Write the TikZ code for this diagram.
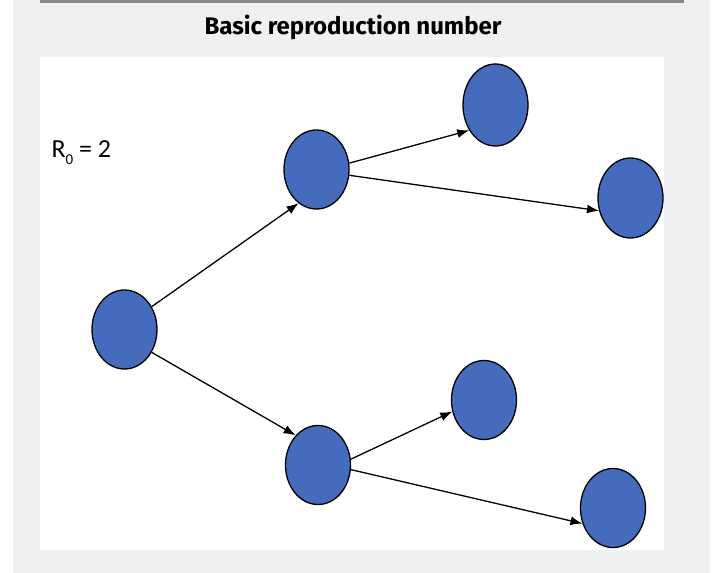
\documentclass[tikz,border=0pt]{standalone}
\usepackage{fontspec}
\setmainfont{Carlito}
\newfontfamily\titlefont{Fira Sans}
\usepackage{tikz}
\usetikzlibrary{arrows,arrows.meta,shapes.geometric}
\definecolor{bgGrey}{RGB}{239,240,242}
\definecolor{ruleGrey}{RGB}{138,138,138}
\definecolor{caseBlue}{RGB}{69,108,188}
\tikzset{case/.style={ellipse,draw=black,line width=1.3pt,fill=caseBlue,minimum width=65pt,minimum height=79pt,inner sep=0pt},
  spread/.style={-{Latex[length=12pt,width=9pt]},line width=1.3pt}}

\begin{document}
\begin{tikzpicture}[x=1pt,y=-1pt]
\useasboundingbox (0,0) rectangle (713,573);
\fill[bgGrey] (13,0) rectangle (710,573);
\fill[white] (40,57) rectangle (664,550);
\draw[ruleGrey,line width=2.5pt] (40,1.25) -- (684,1.25);
\node (title) at (353,27) {\titlefont\bfseries\fontsize{24}{28}\selectfont Basic reproduction number};
\node[anchor=west] (rzero) at (48,153) {\fontsize{26}{30}\selectfont R\raisebox{-7pt}{\fontsize{15}{16}\selectfont 0} = 2};
\node[case] (a) at (124.5,329.5) {};
\node[case] (b) at (316.5,169.5) {};
\node[case,minimum height=82pt] (c) at (495.5,105) {};
\node[case,minimum height=80pt] (d) at (630.5,198) {};
\node[case] (e) at (318,465) {};
\node[case] (f) at (484,400) {};
\node[case] (g) at (613,508) {};
\draw[spread] (a.40) -- (b.242);
\draw[spread] (b.11) -- (c.224);
\draw[spread] (b.350) -- (d.202);
\draw[spread] (a.320) -- (e.127);
\draw[spread] (e.10) -- (f.200);
\draw[spread] (e.352) -- (g.207);
\end{tikzpicture}
\end{document}
